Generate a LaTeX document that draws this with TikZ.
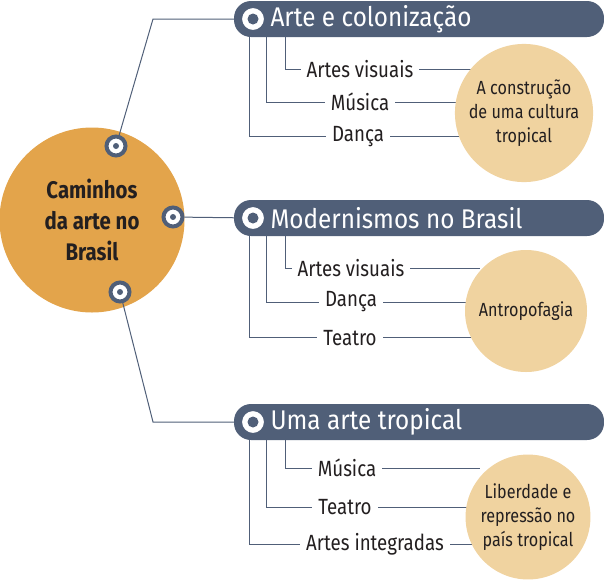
\documentclass[tikz,border=0pt]{standalone}
\usepackage{fontspec}
\setmainfont{Fira Sans}[FakeStretch=0.85]
\definecolor{navy}{HTML}{505F78}
\definecolor{org}{HTML}{E3A44B}
\definecolor{sand}{HTML}{F0D3A0}
\definecolor{ink}{HTML}{231F20}
\begin{document}
\begin{tikzpicture}[x=1pt,y=-1pt,
 ln/.style={draw=navy,line width=1pt},
 lab/.style={font=\fontsize{22}{24}\selectfont,text=ink,fill=white,inner xsep=6pt,inner ysep=1pt},
 ban/.style={fill=navy,rounded corners=17pt},
 bant/.style={font=\fontsize{27}{29}\selectfont\addfontfeature{FakeStretch=0.9},text=white,anchor=west},
 tgt/.style={circle,draw=navy,line width=4pt,fill=white,minimum size=19pt,inner sep=0pt,
   path picture={\fill[navy] (path picture bounding box.center) circle (3pt);}},
 tgtb/.style={circle,draw=navy,line width=4pt,fill=white,minimum size=26pt,inner sep=0pt,
   path picture={\fill[navy] (path picture bounding box.center) circle (5.5pt);}},
 bub/.style={circle,fill=sand,minimum size=122pt,align=center,text=ink,font=\fontsize{19}{24}\selectfont}]
\useasboundingbox (0,0) rectangle (604,584);
\coordinate (k1) at (153,19); \coordinate (k3) at (153,422);
\node[circle,fill=org,minimum size=185pt,align=center,font=\fontsize{24}{31}\selectfont\bfseries,text=ink] (main) at (92,220) {Caminhos\\da arte no\\Brasil};
\foreach \y/\n in {19/1,218/2,422/3}{
  \path[ban] (234,\y-18) rectangle (604,\y+18);
  \coordinate (b\n) at (234,\y);
  \node[tgtb] (bt\n) at (253,\y) {};
}
\node[tgt] (t1) at (116,146) {};
\node[tgt] (t2) at (173,217) {};
\node[tgt] (t3) at (120,292) {};
\draw[ln] (t1) -- (k1) -- (b1);
\draw[ln] (t2) -- (bt2);
\draw[ln] (t3) -- (k3) -- (b3);
\node[bant] (h1) at (267,19) {Arte e colonização};
\node[bant] (h2) at (267,218) {Modernismos no Brasil};
\node[bant] (h3) at (267,422) {Uma arte tropical};
\coordinate (v11) at (285,37); \coordinate (v12) at (266,37); \coordinate (v13) at (249,37);
\coordinate (v21) at (285,236); \coordinate (v22) at (266,236); \coordinate (v23) at (249,236);
\coordinate (v31) at (285,440); \coordinate (v32) at (266,440); \coordinate (v33) at (249,440);
\foreach \s/\ya/\yb/\yc in {1/69/102/136,2/268/302/337,3/468/507/544}{
  \coordinate (e\s1) at (480,\ya); \coordinate (e\s2) at (480,\yb); \coordinate (e\s3) at (480,\yc);
  \draw[ln] (v\s1) |- (e\s1);
  \draw[ln] (v\s2) |- (e\s2);
  \draw[ln] (v\s3) |- (e\s3);
}
\node[bub] (c1) at (524,113) {A construção\\de uma cultura\\tropical};
\node[bub] (c2) at (526,311) {Antropofagia};
\node[bub] (c3) at (528,517) {Liberdade e\\repressão no\\país tropical};
\node[lab] (l11) at (360,69) {Artes visuais};
\node[lab] (l12) at (360,102) {Música};
\node[lab] (l13) at (358,137) {Dança};
\node[lab] (l21) at (351,268) {Artes visuais};
\node[lab] (l22) at (351,302) {Dança};
\node[lab] (l23) at (350,338) {Teatro};
\node[lab] (l31) at (347,468) {Música};
\node[lab] (l32) at (345,507) {Teatro};
\node[lab] (l33) at (375,544) {Artes integradas};
\end{tikzpicture}
\end{document}
